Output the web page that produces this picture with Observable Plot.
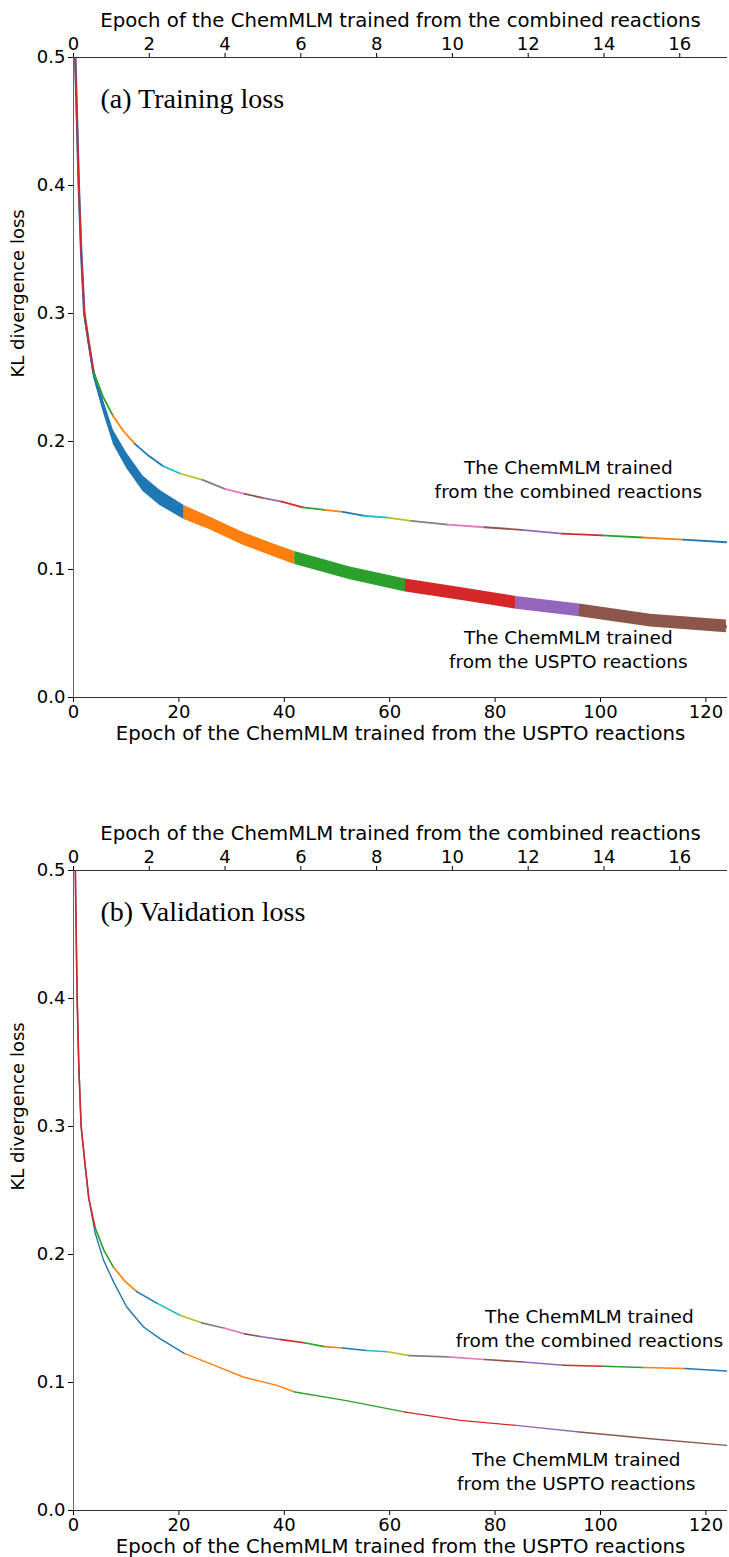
<!DOCTYPE html>
<html>
<head>
<meta charset="utf-8">
<script src="https://cdn.jsdelivr.net/npm/d3@7"></script>
<script src="https://cdn.jsdelivr.net/npm/@observablehq/plot@0.6"></script>
<style>
  html, body { margin: 0; padding: 0; background: #fff; }
  #chart svg { display: block; }
</style>
</head>
<body>
<div id="chart"></div>
<script>
// ---------- axis ticks ----------
const usptoTicks = [0, 20, 40, 60, 80, 100, 120];
const combinedTicks = [0, 2, 4, 6, 8, 10, 12, 14, 16];
const lossTicks = [0, 0.1, 0.2, 0.3, 0.4, 0.5];
// USPTO epochs per combined epoch (read from the alignment of the two x axes)
const epochRatio = 7.19;

// ---------- colours (matplotlib tab10) ----------
const blue = "#1f77b4", orange = "#ff7f0e", green = "#2ca02c", red = "#d62728", purple = "#9467bd",
      brown = "#8c564b", pink = "#e377c2", gray = "#7f7f7f", olive = "#bcbd22", cyan = "#17becf";
const usptoColors = [blue, orange, green, red, purple, brown];
const combinedColors = [red, green, orange, blue, cyan, olive, gray, pink, brown, purple,
                        red, green, orange, blue, cyan, olive, gray, pink, brown, purple,
                        red, green, orange, blue];

// ---------- (a) training loss, USPTO model (x in USPTO epochs) ----------
const trainUsptoEpoch  = [0.33, 0.65, 1.0, 1.45, 2.05, 2.9, 3.8, 5.7, 7.6, 10.1, 13.2, 16.4, 21, 25.9, 32.2, 38.6, 42, 52.5, 63, 73.4, 84, 96, 109.5, 123.9];
const trainUsptoLoss   = [0.50, 0.453, 0.40, 0.349, 0.30, 0.277, 0.254, 0.227, 0.203, 0.185, 0.167, 0.156, 0.1445, 0.136, 0.124, 0.114, 0.109, 0.097, 0.0875, 0.081, 0.074, 0.068, 0.060, 0.0555];
const trainUsptoSpread = [0.001, 0.001, 0.0012, 0.0015, 0.002, 0.003, 0.004, 0.005, 0.0055, 0.006, 0.006, 0.006, 0.0055, 0.005, 0.005, 0.005, 0.005, 0.005, 0.005, 0.005, 0.005, 0.005, 0.005, 0.005];
const trainUsptoBreaks = [0.33, 21, 42, 63, 84, 96, 123.9];

// ---------- (a) training loss, combined model (x in combined epochs) ----------
const trainCombEpoch = [0.046, 0.090, 0.139, 0.202, 0.285, 0.403, 0.529, 0.779, 1.043, 1.321, 1.627, 1.975, 2.350, 2.809, 3.408, 3.992, 4.520, 4.993, 5.494, 6.050, 6.634, 7.107, 7.650, 8.289, 8.915, 9.875, 10.848, 11.822, 12.893, 13.950, 15.007, 16.092, 17.232];
const trainCombLoss  = [0.50, 0.453, 0.40, 0.349, 0.30, 0.277, 0.254, 0.235, 0.220, 0.208, 0.198, 0.189, 0.181, 0.175, 0.170, 0.163, 0.159, 0.156, 0.153, 0.1485, 0.1465, 0.145, 0.142, 0.1405, 0.138, 0.135, 0.133, 0.131, 0.128, 0.1266, 0.125, 0.1234, 0.1213];
const trainCombBreaks = [0.046, 0.529, 1.043, 1.627, 2.350, 2.809, 3.408, 3.992, 4.520, 4.993, 5.494, 6.050, 6.634, 7.107, 7.650, 8.289, 8.915, 9.875, 10.848, 11.822, 12.893, 13.950, 15.007, 16.092, 17.232];

// ---------- (b) validation loss, USPTO model ----------
const validUsptoEpoch = [0.35, 0.5, 0.7, 1.0, 1.45, 2.2, 2.9, 4.1, 5.7, 7.6, 10.1, 13.3, 16.4, 21.1, 25.9, 32.2, 38.6, 42, 51.5, 63, 73.4, 84, 96, 109.5, 123.9];
const validUsptoLoss  = [0.50, 0.4525, 0.40, 0.348, 0.30, 0.27, 0.244, 0.217, 0.1956, 0.1786, 0.159, 0.1434, 0.1343, 0.1226, 0.1148, 0.1043, 0.0978, 0.0926, 0.086, 0.0769, 0.0704, 0.0665, 0.0613, 0.0561, 0.0509];
const validUsptoBreaks = [0.35, 21.1, 42, 63, 84, 96, 123.9];

// ---------- (b) validation loss, combined model ----------
const validCombEpoch = [0.049, 0.070, 0.097, 0.139, 0.202, 0.306, 0.403, 0.570, 0.807, 1.057, 1.363, 1.669, 2.198, 2.809, 3.380, 3.992, 4.520, 4.924, 5.480, 6.092, 6.620, 7.107, 7.719, 8.289, 8.860, 9.875, 10.848, 11.877, 12.921, 13.978, 15.035, 16.134, 17.232];
const validCombLoss  = [0.50, 0.4525, 0.40, 0.348, 0.30, 0.27, 0.244, 0.221, 0.203, 0.190, 0.179, 0.171, 0.162, 0.1526, 0.1466, 0.1424, 0.138, 0.136, 0.1335, 0.131, 0.128, 0.127, 0.125, 0.124, 0.121, 0.120, 0.118, 0.116, 0.1135, 0.1127, 0.1117, 0.1109, 0.109];
const validCombBreaks = [0.049, 0.570, 1.057, 1.669, 2.198, 2.809, 3.380, 3.992, 4.520, 4.924, 5.480, 6.092, 6.620, 7.107, 7.719, 8.289, 8.860, 9.875, 10.848, 11.877, 12.921, 13.978, 15.035, 16.134, 17.232];

// ---------- texts ----------
const topAxisTitle = "Epoch of the ChemMLM trained from the combined reactions";
const bottomAxisTitle = "Epoch of the ChemMLM trained from the USPTO reactions";
const yAxisTitle = "KL divergence loss";
const combinedNote = "The ChemMLM trained\nfrom the combined reactions";
const usptoNote = "The ChemMLM trained\nfrom the USPTO reactions";
// annotation anchors in data units (USPTO epoch, loss)
const trainNotes = [{epoch: 93.9, loss: 0.1711, text: combinedNote}, {epoch: 93.9, loss: 0.0383, text: usptoNote}];
const validNotes = [{epoch: 97.9, loss: 0.1432, text: combinedNote}, {epoch: 95.4, loss: 0.0313, text: usptoNote}];

// ---------- helpers: split a curve into coloured runs ----------
function segmentRows(xs, ys, breaks, colors, scale = 1, spread = null) {
  const rows = [];
  for (let s = 0; s < breaks.length - 1; s++) {
    for (let j = 0; j < xs.length; j++) {
      if (xs[j] >= breaks[s] && xs[j] <= breaks[s + 1]) {
        rows.push({
          x: xs[j] * scale, y: ys[j],
          y1: spread ? ys[j] - spread[j] : ys[j],
          y2: spread ? ys[j] + spread[j] : ys[j],
          seg: s, color: colors[s]
        });
      }
    }
  }
  return rows;
}

function panel({height, marginBottom, title, usptoMarks, combRows, combWidth, notes}) {
  return Plot.plot({
    width: 729, height,
    marginTop: 57, marginLeft: 73, marginRight: 2, marginBottom,
    style: {fontFamily: "'DejaVu Sans', sans-serif", fontSize: "18px", color: "#000", background: "#fff", overflow: "visible"},
    x: {domain: [0, 124.1]},
    y: {domain: [0, 0.5]},
    color: {type: "identity"},
    marks: [
      Plot.axisX({anchor: "bottom", ticks: usptoTicks, tickSize: 5, tickPadding: 3, label: null, fontSize: 18}),
      Plot.axisX({anchor: "top", ticks: combinedTicks.map(t => t * epochRatio),
                  tickFormat: d => String(Math.round(d / epochRatio)), tickSize: 5, tickPadding: 3, label: null, fontSize: 18}),
      Plot.axisY({ticks: lossTicks, tickFormat: d => d.toFixed(1), tickSize: 5, tickPadding: 3, label: null, fontSize: 18}),
      ...usptoMarks,
      Plot.line(combRows, {x: "x", y: "y", z: "seg", stroke: "color", strokeWidth: combWidth, clip: true}),
      Plot.ruleY([0], {stroke: "#333"}),
      Plot.ruleY([0.5], {stroke: "#333"}),
      Plot.ruleX([0], {stroke: "#666"}),
      Plot.text([bottomAxisTitle], {text: d => d, frameAnchor: "bottom", dy: 36, lineAnchor: "middle", fontSize: 19.7}),
      Plot.text([topAxisTitle], {text: d => d, frameAnchor: "top", dy: -37, lineAnchor: "middle", fontSize: 19.7}),
      Plot.text([yAxisTitle], {text: d => d, frameAnchor: "left", dx: -55, rotate: -90, lineAnchor: "middle", fontSize: 18}),
      Plot.text([title], {text: d => d, frameAnchor: "top-left", dx: 27, dy: 50, lineAnchor: "bottom",
                          textAnchor: "start", fontFamily: "'Liberation Serif', serif", fontSize: 28}),
      Plot.text(notes, {x: "epoch", y: "loss", text: "text", textAnchor: "middle", lineAnchor: "middle",
                        lineHeight: 1.3, fontSize: 18.5})
    ]
  });
}

const trainUsptoRows = segmentRows(trainUsptoEpoch, trainUsptoLoss, trainUsptoBreaks, usptoColors, 1, trainUsptoSpread);
const trainCombRows = segmentRows(trainCombEpoch, trainCombLoss, trainCombBreaks, combinedColors, epochRatio);
const validUsptoRows = segmentRows(validUsptoEpoch, validUsptoLoss, validUsptoBreaks, usptoColors);
const validCombRows = segmentRows(validCombEpoch, validCombLoss, validCombBreaks, combinedColors, epochRatio);

const chart = document.getElementById("chart");
chart.append(panel({
  height: 813, marginBottom: 116, title: "(a) Training loss",
  usptoMarks: [
    Plot.areaY(trainUsptoRows, {x: "x", y1: "y1", y2: "y2", z: "seg", fill: "color", clip: true}),
    Plot.line(trainUsptoRows, {x: "x", y: "y", z: "seg", stroke: "color", strokeWidth: 2.5, clip: true})
  ],
  combRows: trainCombRows, combWidth: 1.8, notes: trainNotes
}));
chart.append(panel({
  height: 744, marginBottom: 47, title: "(b) Validation loss",
  usptoMarks: [
    Plot.line(validUsptoRows, {x: "x", y: "y", z: "seg", stroke: "color", strokeWidth: 1.4, clip: true})
  ],
  combRows: validCombRows, combWidth: 1.6, notes: validNotes
}));
</script>
</body>
</html>
